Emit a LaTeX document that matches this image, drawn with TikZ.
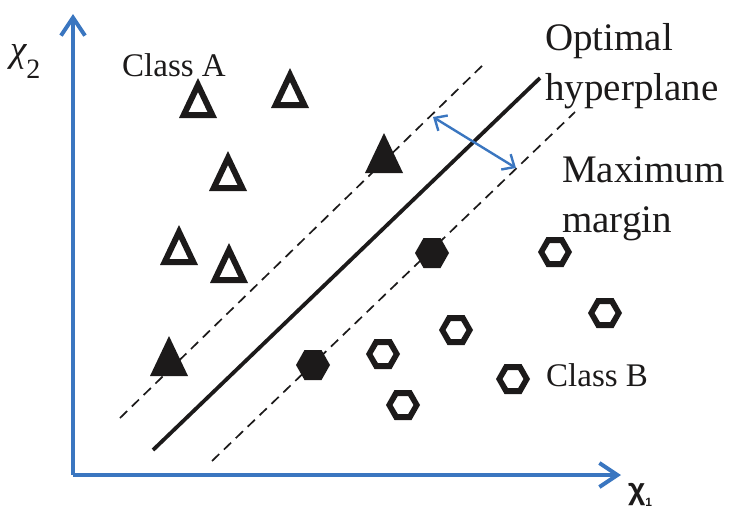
\documentclass[tikz,border=0pt]{standalone}
\usepackage{fontspec}
\setmainfont{Liberation Serif}
\newfontfamily\axisfont{Liberation Sans}
\usetikzlibrary{arrows.meta}
\definecolor{axisblue}{RGB}{58,118,192}
\definecolor{ink}{RGB}{28,26,26}
\tikzset{
  opentri/.pic={\fill[ink,even odd rule] (0,-20)--(19,20)--(-19,20)--cycle (0,-6)--(9.5,14)--(-9.5,14)--cycle;},
  filltri/.pic={\fill[ink] (0,-20)--(19,20)--(-19,20)--cycle;},
  openhex/.pic={\fill[ink,even odd rule] (-17,0)--(-8.5,-15)--(8.5,-15)--(17,0)--(8.5,15)--(-8.5,15)--cycle (-10.5,0)--(-5.2,-9)--(5.2,-9)--(10.5,0)--(5.2,9)--(-5.2,9)--cycle;},
  fillhex/.pic={\fill[ink] (-17,0)--(-8.5,-15)--(8.5,-15)--(17,0)--(8.5,15)--(-8.5,15)--cycle;},
}
\begin{document}
\begin{tikzpicture}[x=1pt,y=-1pt,
  axisline/.style={axisblue,line width=4pt,-{Straight Barb[length=18pt,width=24pt,line width=4pt]}},
  marginarrow/.style={axisblue,line width=2.4pt,{Straight Barb[length=10pt,width=18pt,line width=2.4pt]}-{Straight Barb[length=10pt,width=18pt,line width=2.4pt]}},
  supportline/.style={ink,line width=1.7pt,dash pattern=on 10pt off 6.5pt},
  hyperline/.style={ink,line width=3.8pt},
  bigtext/.style={inner sep=0pt,anchor=base west,font=\fontsize{39}{39}\selectfont,text=ink},
  classtext/.style={inner sep=0pt,anchor=base west,font=\fontsize{33}{33}\selectfont,text=ink},
]
\useasboundingbox (0,0) rectangle (730,512);

% axes
\coordinate (origin) at (73,475);
\coordinate (ytip) at (73,14);
\coordinate (xtip) at (621,475);
\draw[axisline] (origin) -- (ytip);
\draw[axisline] (origin) -- (xtip);
\node[inner sep=0pt,anchor=base west,text=ink] (ylabel) at (10,61)
  {\fontsize{37}{37}\selectfont\itshape χ\upshape\raisebox{-17pt}{\fontsize{28}{28}\selectfont 2}};
\node[inner sep=0pt,anchor=base west,text=ink] (xlabel) at (628,499)
  {\axisfont\bfseries{\fontsize{30}{30}\selectfont χ}\raisebox{-7pt}{\fontsize{12}{12}\selectfont 1}};

% lines
\coordinate (ud1) at (120,418); \coordinate (ud2) at (486,62);
\coordinate (hs1) at (153,450); \coordinate (hs2) at (540,78);
\coordinate (ld1) at (212,461); \coordinate (ld2) at (575,112);
\draw[supportline] (ud1) -- (ud2);
\draw[hyperline] (hs1) -- (hs2);
\draw[supportline] (ld1) -- (ld2);

% margin arrow
\coordinate (m1) at (433,117);
\coordinate (m2) at (516,168);
\draw[marginarrow] (m1) -- (m2);

% class A
\pic (a1) at (198,98) {opentri};
\pic (a2) at (290,88) {opentri};
\pic (a3) at (228,171) {opentri};
\pic (a4) at (179,245) {opentri};
\pic (a5) at (229,263) {opentri};
\pic (sa1) at (384,153) {filltri};
\pic (sa2) at (169,356) {filltri};

% class B
\pic (sb1) at (432,253) {fillhex};
\pic (sb2) at (313,365) {fillhex};
\pic (b1) at (555,252) {openhex};
\pic (b2) at (605,313) {openhex};
\pic (b3) at (456,330) {openhex};
\pic (b4) at (383,354) {openhex};
\pic (b5) at (513,379) {openhex};
\pic (b6) at (403,405) {openhex};

% labels
\node[classtext] (classA) at (122,76) {Class A};
\node[classtext] (classB) at (546,386) {Class B};
\node[bigtext] (opt1) at (545,50) {Optimal};
\node[bigtext] (opt2) at (545,100) {hyperplane};
\node[bigtext] (max1) at (562,182) {Maximum};
\node[bigtext] (max2) at (562,232) {margin};
\end{tikzpicture}
\end{document}
